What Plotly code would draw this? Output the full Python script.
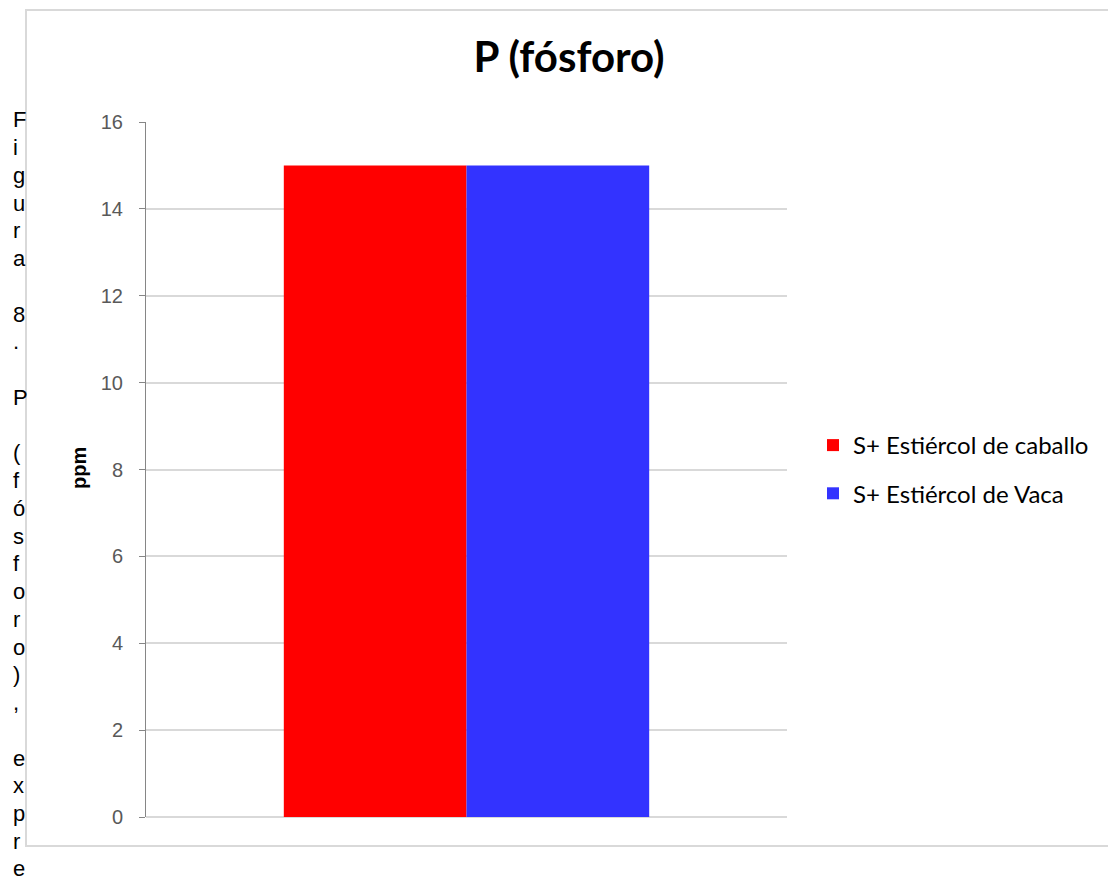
import plotly.graph_objects as go

# ---- data ----
categories = [""]
series_names = ["S+ Estiércol de caballo", "S+ Estiércol de Vaca"]
series_values = [[15], [15]]
series_colors = ["#FF0000", "#3333FF"]
y_ticks = [0, 2, 4, 6, 8, 10, 12, 14, 16]
title_text = "P (fósforo)"
y_title = "ppm"
caption = "Figura 8. P (fósforo), expre"

# page body margin offset (the html page places the figure 8px in)
OFF = 8
W, H = 1116, 883
L, R, T, B = 146 - OFF, 787 - OFF, 122 - OFF, 817 - OFF

def px_x(x):
    """reference-screen x pixel -> paper coordinate"""
    return (x - OFF - L) / (R - L)

def px_y(y):
    """reference-screen y pixel -> paper coordinate"""
    return (B - (y - OFF)) / (B - T)

fig = go.Figure()
for i, (name, vals, col) in enumerate(zip(series_names, series_values, series_colors)):
    fig.add_trace(go.Bar(
        x=categories, y=vals, name=name,
        marker=dict(color=col, line=dict(width=0)),
        legendgroup=str(i),
    ))

fig.update_layout(
    width=W, height=H,
    margin=dict(l=L, r=W - R, t=T, b=H - B, autoexpand=False),
    paper_bgcolor="white", plot_bgcolor="white",
    barmode="group", bargap=0.43, bargroupgap=0,
    showlegend=True,
    legend=dict(
        x=px_x(813), xanchor="left",
        y=px_y(423), yanchor="top",
        font=dict(family="Lato", size=24, color="#000000"),
        tracegroupgap=14,
        bgcolor="rgba(0,0,0,0)",
    ),
    title=dict(
        text="<b>" + title_text + "</b>",
        x=(569 - OFF) / W, xref="container", xanchor="center",
        y=1 - (57 - OFF) / H, yref="container", yanchor="middle",
        font=dict(family="Lato", size=42, color="#000000"),
    ),
    xaxis=dict(
        showticklabels=False, showgrid=False, zeroline=False,
        showline=False, ticks="",
    ),
    yaxis=dict(
        range=[0, 16], tickvals=y_ticks, ticktext=[str(v) for v in y_ticks],
        showgrid=True, gridcolor="#d9d9d9", gridwidth=1.5,
        zeroline=True, zerolinecolor="#d9d9d9", zerolinewidth=1.5,
        showline=True, linecolor="#868686", linewidth=1,
        ticks="outside", ticklen=6, tickcolor="#868686", tickwidth=1,
        ticklabelstandoff=12,
        tickfont=dict(family="Liberation Sans", size=20, color="#595959"),
    ),
)

# ppm axis title
fig.add_annotation(
    text="<b>" + y_title + "</b>", textangle=-90,
    xref="paper", yref="paper", x=px_x(79), y=px_y(468),
    xanchor="center", yanchor="middle", showarrow=False,
    font=dict(family="Liberation Sans", size=20, color="#000000"),
)

# vertical caption: one character per line
line_step = 27.74
for i, ch in enumerate(caption):
    if ch == " ":
        continue
    fig.add_annotation(
        text=ch, xref="paper", yref="paper",
        x=px_x(11), y=px_y(120 + i * line_step),
        xanchor="left", yanchor="middle", showarrow=False,
        font=dict(family="Liberation Sans", size=22, color="#000000"),
    )

# outer chart border
fig.add_shape(
    type="rect", xref="paper", yref="paper",
    x0=px_x(26), x1=px_x(1140), y0=px_y(846), y1=px_y(10),
    line=dict(color="#d9d9d9", width=2), fillcolor="rgba(0,0,0,0)", layer="below",
)

fig.write_html("out.html")
